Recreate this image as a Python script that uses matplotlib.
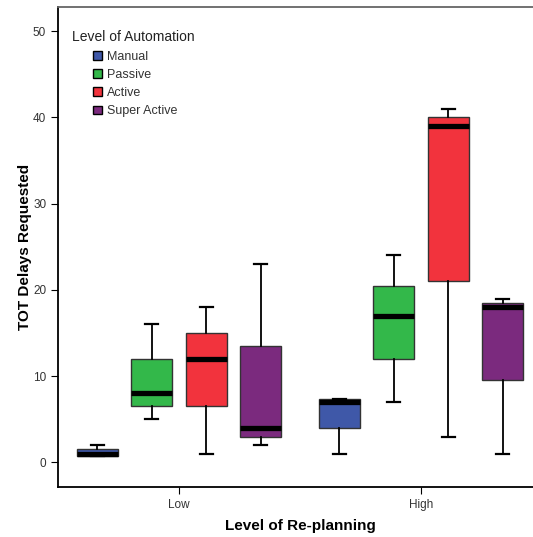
import matplotlib.pyplot as plt
from matplotlib.patches import Patch

plt.rcParams['font.family'] = ['Liberation Sans', 'DejaVu Sans']

groups = ['Low', 'High']
levels = ['Manual', 'Passive', 'Active', 'Super Active']
colors = ['#3f58a8', '#33b84a', '#f2333d', '#7b2a7e']

# five-number summaries, per level: [Low, High]
whis_lo = {'Manual': [0.7, 1], 'Passive': [5, 7], 'Active': [1, 3], 'Super Active': [2, 1]}
q1 = {'Manual': [0.7, 4], 'Passive': [6.5, 12], 'Active': [6.5, 21], 'Super Active': [3, 9.5]}
med = {'Manual': [1, 7], 'Passive': [8, 17], 'Active': [12, 39], 'Super Active': [4, 18]}
q3 = {'Manual': [1.5, 7.3], 'Passive': [12, 20.5], 'Active': [15, 40], 'Super Active': [13.5, 18.5]}
whis_hi = {'Manual': [2, 7.3], 'Passive': [16, 24], 'Active': [18, 41], 'Super Active': [23, 19]}

fig = plt.figure(figsize=(5.33, 5.37), dpi=100)
ax = fig.add_axes([0.1088, 0.0931, 0.908, 0.894])

step = 0.225
width = 0.17
for i, lev in enumerate(levels):
    stats = []
    pos = []
    for g in range(len(groups)):
        stats.append(dict(whislo=whis_lo[lev][g], q1=q1[lev][g], med=med[lev][g],
                          q3=q3[lev][g], whishi=whis_hi[lev][g], fliers=[]))
        pos.append(g + (i - 1.5) * step)
    ax.bxp(stats, positions=pos, widths=width, capwidths=0.055, patch_artist=True,
           showfliers=False,
           boxprops=dict(facecolor=colors[i], edgecolor='#333333', linewidth=1),
           medianprops=dict(color='black', linewidth=3.8, solid_capstyle='butt'),
           whiskerprops=dict(color='black', linewidth=1.3),
           capprops=dict(color='black', linewidth=1.6))

ax.set_xlim(-0.5, 1.5)
ax.set_ylim(-2.85, 52.8)
ax.set_xticks([0, 1])
ax.set_xticklabels(groups, fontsize=8.5, color='#333333')
ax.set_yticks([0, 10, 20, 30, 40, 50])
ax.tick_params(axis='y', labelsize=8.5, labelcolor='#333333', length=5)
ax.tick_params(axis='x', length=5)
ax.set_xlabel('Level of Re-planning', fontsize=11, fontweight='bold', labelpad=6)
ax.set_ylabel('TOT Delays Requested', fontsize=11, fontweight='bold', labelpad=1)
for s in ax.spines.values():
    s.set_linewidth(1.3)
ax.spines['top'].set_color('#666666')

# legend: title on its own, entries indented beneath it
ax.text(0.029, 0.9375, 'Level of Automation', transform=ax.transAxes,
        fontsize=10, color='#222222', va='center', ha='left')
handles = [Patch(facecolor=c, edgecolor='black', label=l) for c, l in zip(colors, levels)]
leg = ax.legend(handles=handles, loc='upper left', bbox_to_anchor=(0.072, 0.909),
                frameon=False, fontsize=9, borderpad=0, borderaxespad=0,
                handlelength=0.72, handleheight=0.72,
                handletextpad=0.45, labelspacing=0.5)
for t in leg.get_texts():
    t.set_color('#333333')

fig.savefig('out.png', dpi=100)
